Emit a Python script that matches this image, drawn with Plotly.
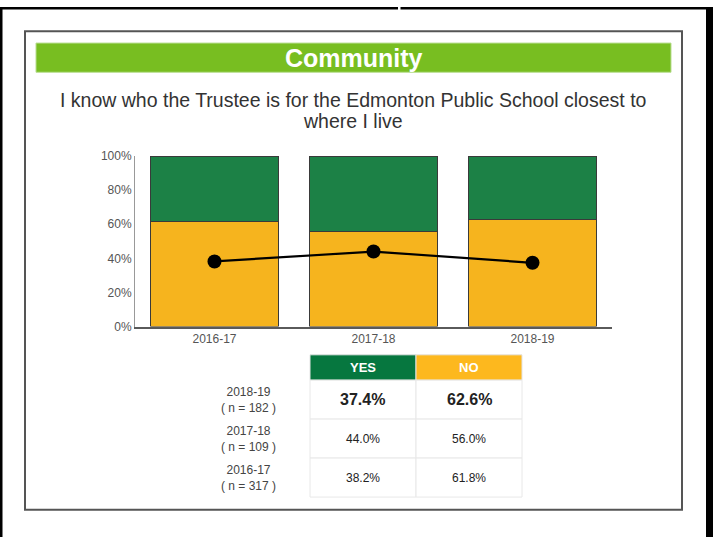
import plotly.graph_objects as go

# ---- data ----
categories = ["2016-17", "2017-18", "2018-19"]
yes_pct = [38.2, 44.0, 37.4]
no_pct = [61.8, 56.0, 62.6]
n_resp = [317, 109, 182]
y_ticks = [0, 20, 40, 60, 80, 100]
col_heads = ["YES", "NO"]
header_text = "Community"
question_lines = ["I know who the Trustee is for the Edmonton Public School closest to", "where I live"]

W, H = 713, 544
FONT = "Liberation Sans, Arial, sans-serif"


def X(px):
    return px / W


def Y(py):
    return 1 - py / H


GREEN = "#1C8146"
YELLOW = "#F6B41E"

fig = go.Figure()
fig.add_trace(go.Bar(x=categories, y=no_pct, marker=dict(color=YELLOW, line=dict(color="#3a3a3a", width=1)),
                     width=0.8, name="NO", hoverinfo="skip"))
fig.add_trace(go.Bar(x=categories, y=yes_pct, marker=dict(color=GREEN, line=dict(color="#3a3a3a", width=1)),
                     width=0.8, name="YES", hoverinfo="skip"))
fig.add_trace(go.Scatter(x=categories, y=yes_pct, mode="lines+markers",
                         line=dict(color="black", width=2.2),
                         marker=dict(color="black", size=14), name="YES line", hoverinfo="skip"))

shapes = []
annotations = []

# outer black screenshot edges
for (x0, x1, y0, y1) in [(0, 2.5, 0, H), (0, 398, 0, 2.5), (400.5, W, 0, 2.5), (706, W, 0, H)]:
    shapes.append(dict(type="rect", xref="paper", yref="paper", x0=X(x0), x1=X(x1), y0=Y(y0), y1=Y(y1),
                       fillcolor="black", line=dict(width=0), layer="above"))

# inner frame
shapes.append(dict(type="rect", xref="paper", yref="paper", x0=X(25), x1=X(682), y0=Y(25), y1=Y(516),
                   line=dict(color="#555555", width=2), fillcolor="rgba(0,0,0,0)"))

# header bar
shapes.append(dict(type="rect", xref="paper", yref="paper", x0=X(36), x1=X(671), y0=Y(37), y1=Y(67),
                   line=dict(color="#b9dd92", width=1), fillcolor="#78BE21"))
annotations.append(dict(text="<b>%s</b>" % header_text, x=X(353.5), y=Y(52), xref="paper", yref="paper",
                        showarrow=False, xanchor="center", yanchor="middle",
                        font=dict(family=FONT, size=25, color="white")))
for k, line in enumerate(question_lines):
    annotations.append(dict(text=line, x=X(353), y=Y(95 + 22 * k), xref="paper", yref="paper",
                            showarrow=False, xanchor="center", yanchor="middle", align="center",
                            font=dict(family=FONT, size=19.5, color="#333333")))

# table
cx = [310, 416, 522]
row_y = [357, 383, 423, 463, 503]
head_fill = ["#06773F", "#FDB81E"]
for j, h in enumerate(col_heads):
    shapes.append(dict(type="rect", xref="paper", yref="paper", x0=X(cx[j]), x1=X(cx[j + 1]),
                       y0=Y(row_y[0]), y1=Y(row_y[1]), fillcolor=head_fill[j],
                       line=dict(color="#e4e4e4", width=1)))
    annotations.append(dict(text="<b>%s</b>" % h, x=X((cx[j] + cx[j + 1]) / 2), y=Y((row_y[0] + row_y[1]) / 2),
                            xref="paper", yref="paper", showarrow=False, xanchor="center", yanchor="middle",
                            font=dict(family=FONT, size=13, color="white")))

order = list(range(len(categories)))[::-1]
for r, i in enumerate(order):
    top, bot = row_y[r + 1], row_y[r + 2]
    mid = (top + bot) / 2
    vals = [yes_pct[i], no_pct[i]]
    for j in range(2):
        shapes.append(dict(type="rect", xref="paper", yref="paper", x0=X(cx[j]), x1=X(cx[j + 1]),
                           y0=Y(top), y1=Y(bot), fillcolor="white",
                           line=dict(color="#e8e8e8", width=1)))
        big = r == 0
        txt = "%.1f%%" % vals[j]
        annotations.append(dict(text=("<b>%s</b>" % txt) if big else txt,
                                x=X((cx[j] + cx[j + 1]) / 2), y=Y(mid), xref="paper", yref="paper",
                                showarrow=False, xanchor="center", yanchor="middle",
                                font=dict(family=FONT, size=16 if big else 12, color="#222222")))
    annotations.append(dict(text="%s<br>( n = %d )" % (categories[i], n_resp[i]), x=X(248), y=Y(mid),
                            xref="paper", yref="paper", showarrow=False, xanchor="center", yanchor="middle",
                            align="center", font=dict(family=FONT, size=12, color="#444444")))

fig.update_layout(
    width=W, height=H, margin=dict(l=0, r=0, t=0, b=0),
    paper_bgcolor="white", plot_bgcolor="white",
    barmode="stack", showlegend=False, bargap=0.2,
    font=dict(family=FONT, color="#555555"),
    xaxis=dict(domain=[X(135), X(612)], range=[-0.5, 2.5], showgrid=False, zeroline=False,
               showline=True, linecolor="#5a5a5a", linewidth=2, ticks="",
               tickfont=dict(family=FONT, size=12, color="#555555"), fixedrange=True),
    yaxis=dict(domain=[Y(328), Y(153)], range=[0, 100], tickvals=y_ticks,
               ticktext=["%d%%" % v for v in y_ticks], showgrid=False, zeroline=False,
               showline=True, linecolor="#999999", linewidth=1, ticks="",
               tickfont=dict(family=FONT, size=12, color="#555555"), fixedrange=True),
    shapes=shapes, annotations=annotations,
)

post = ("var d=document.getElementById('{plot_id}');"
        "document.body.style.margin='0';document.body.style.overflow='hidden';"
        "d.style.position='fixed';d.style.left='0px';d.style.top='0px';")
fig.write_html("out.html", post_script=post, config={"displayModeBar": False})
